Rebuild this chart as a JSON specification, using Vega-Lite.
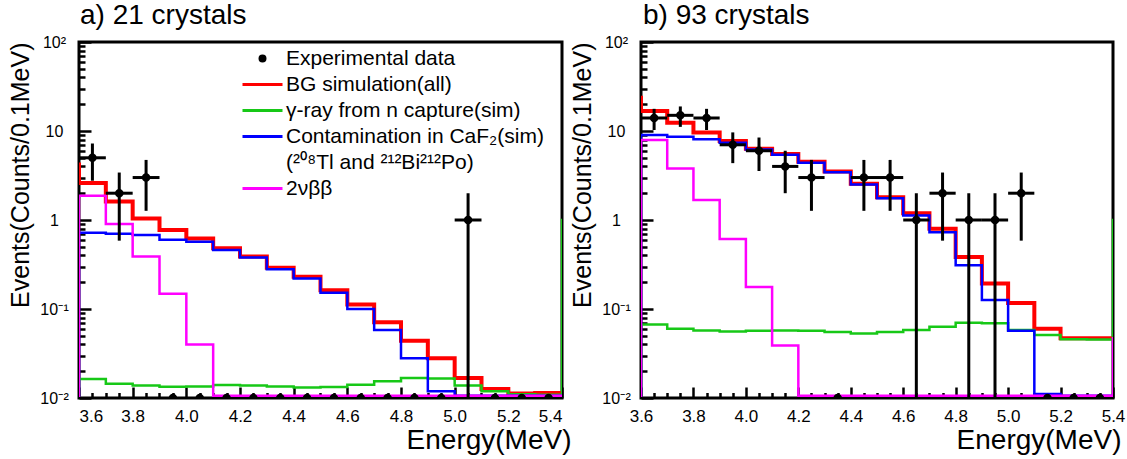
{
  "$schema": "https://vega.github.io/schema/vega-lite/v6.json",
  "padding": {"left": 7, "top": 0, "right": 5, "bottom": 5},
  "bounds": "flush",
  "spacing": 79,
  "datasets": {
    "ha": [
      {"x": 3.5, "bg": 4.2, "gamma": 0.0106, "cont": 0.0106, "nbb": 0.0106},
      {"x": 3.6, "bg": 2.6, "gamma": 0.0164, "cont": 0.72, "nbb": 1.87},
      {"x": 3.7, "bg": 1.61, "gamma": 0.0145, "cont": 0.70, "nbb": 0.9},
      {"x": 3.8, "bg": 1.04, "gamma": 0.0138, "cont": 0.68, "nbb": 0.39},
      {"x": 3.9, "bg": 0.77, "gamma": 0.0134, "cont": 0.60, "nbb": 0.148},
      {"x": 4.0, "bg": 0.62, "gamma": 0.0135, "cont": 0.57, "nbb": 0.040},
      {"x": 4.1, "bg": 0.48, "gamma": 0.014, "cont": 0.46, "nbb": 0.0106},
      {"x": 4.2, "bg": 0.39, "gamma": 0.0138, "cont": 0.38, "nbb": 0.0106},
      {"x": 4.3, "bg": 0.29, "gamma": 0.0135, "cont": 0.28, "nbb": 0.0106},
      {"x": 4.4, "bg": 0.23, "gamma": 0.0131, "cont": 0.22, "nbb": 0.0106},
      {"x": 4.5, "bg": 0.162, "gamma": 0.0133, "cont": 0.152, "nbb": 0.0106},
      {"x": 4.6, "bg": 0.112, "gamma": 0.0141, "cont": 0.10, "nbb": 0.0106},
      {"x": 4.7, "bg": 0.071, "gamma": 0.0154, "cont": 0.058, "nbb": 0.0106},
      {"x": 4.8, "bg": 0.044, "gamma": 0.0168, "cont": 0.028, "nbb": 0.0106},
      {"x": 4.9, "bg": 0.028, "gamma": 0.0166, "cont": 0.0119, "nbb": 0.0106},
      {"x": 5.0, "bg": 0.0168, "gamma": 0.0138, "cont": 0.0106, "nbb": 0.0106},
      {"x": 5.1, "bg": 0.0126, "gamma": 0.0119, "cont": 0.0106, "nbb": 0.0106},
      {"x": 5.2, "bg": 0.0112, "gamma": 0.011, "cont": 0.0106, "nbb": 0.0106},
      {"x": 5.3, "bg": 0.0114, "gamma": 0.0109, "cont": 0.0106, "nbb": 0.0106},
      {"x": 5.4, "bg": 0.0114, "gamma": 1.0, "cont": 0.0106, "nbb": 0.0106},
      {"x": 5.5, "bg": 0.0114, "gamma": 1.0, "cont": 0.0106, "nbb": 0.0106}
    ],
    "hb": [
      {"x": 3.5, "bg": 23.6, "gamma": 0.0106, "cont": 0.0106, "nbb": 0.0106},
      {"x": 3.6, "bg": 16.8, "gamma": 0.067, "cont": 9.0, "nbb": 7.9},
      {"x": 3.7, "bg": 12.4, "gamma": 0.060, "cont": 8.6, "nbb": 3.8},
      {"x": 3.8, "bg": 9.6, "gamma": 0.0575, "cont": 8.1, "nbb": 1.68},
      {"x": 3.9, "bg": 7.7, "gamma": 0.056, "cont": 7.4, "nbb": 0.61},
      {"x": 4.0, "bg": 6.3, "gamma": 0.057, "cont": 6.2, "nbb": 0.177},
      {"x": 4.1, "bg": 5.5, "gamma": 0.0575, "cont": 5.4, "nbb": 0.039},
      {"x": 4.2, "bg": 4.5, "gamma": 0.057, "cont": 4.4, "nbb": 0.0106},
      {"x": 4.3, "bg": 3.5, "gamma": 0.055, "cont": 3.45, "nbb": 0.0106},
      {"x": 4.4, "bg": 2.55, "gamma": 0.053, "cont": 2.5, "nbb": 0.0106},
      {"x": 4.5, "bg": 1.8, "gamma": 0.055, "cont": 1.75, "nbb": 0.0106},
      {"x": 4.6, "bg": 1.19, "gamma": 0.058, "cont": 1.12, "nbb": 0.0106},
      {"x": 4.7, "bg": 0.80, "gamma": 0.063, "cont": 0.73, "nbb": 0.0106},
      {"x": 4.8, "bg": 0.385, "gamma": 0.070, "cont": 0.31, "nbb": 0.0106},
      {"x": 4.9, "bg": 0.194, "gamma": 0.069, "cont": 0.126, "nbb": 0.0106},
      {"x": 5.0, "bg": 0.117, "gamma": 0.058, "cont": 0.057, "nbb": 0.0106},
      {"x": 5.1, "bg": 0.060, "gamma": 0.051, "cont": 0.0111, "nbb": 0.0106},
      {"x": 5.2, "bg": 0.047, "gamma": 0.0457, "cont": 0.0106, "nbb": 0.0106},
      {"x": 5.3, "bg": 0.047, "gamma": 0.0455, "cont": 0.0106, "nbb": 0.0106},
      {"x": 5.4, "bg": 0.047, "gamma": 1.0, "cont": 0.0106, "nbb": 0.047},
      {"x": 5.5, "bg": 0.047, "gamma": 1.0, "cont": 0.0106, "nbb": 0.047}
    ],
    "pa": [
      {"s": "data", "x": 3.65, "y": 5, "lo": 2.764, "hi": 7.236, "xl": 3.6, "xh": 3.7},
      {"s": "data", "x": 3.75, "y": 2, "lo": 0.586, "hi": 3.414, "xl": 3.7, "xh": 3.8},
      {"s": "data", "x": 3.85, "y": 3, "lo": 1.268, "hi": 4.732, "xl": 3.8, "xh": 3.9},
      {"s": "data", "x": 3.95, "y": 0.01},
      {"s": "data", "x": 4.05, "y": 0.01},
      {"s": "data", "x": 4.15, "y": 0.01},
      {"s": "data", "x": 4.25, "y": 0.01},
      {"s": "data", "x": 4.35, "y": 0.01},
      {"s": "data", "x": 4.45, "y": 0.01},
      {"s": "data", "x": 4.55, "y": 0.01},
      {"s": "data", "x": 4.65, "y": 0.01},
      {"s": "data", "x": 4.75, "y": 0.01},
      {"s": "data", "x": 4.85, "y": 0.01},
      {"s": "data", "x": 4.95, "y": 0.01},
      {"s": "data", "x": 5.05, "y": 1, "lo": 0.001, "hi": 2, "xl": 5.0, "xh": 5.1},
      {"s": "data", "x": 5.15, "y": 0.01},
      {"s": "data", "x": 5.25, "y": 0.01},
      {"s": "data", "x": 5.35, "y": 0.01}
    ],
    "pb": [
      {"s": "data", "x": 3.65, "y": 14, "lo": 10.258, "hi": 17.742, "xl": 3.6, "xh": 3.7},
      {"s": "data", "x": 3.75, "y": 15, "lo": 11.127, "hi": 18.873, "xl": 3.7, "xh": 3.8},
      {"s": "data", "x": 3.85, "y": 14, "lo": 10.258, "hi": 17.742, "xl": 3.8, "xh": 3.9},
      {"s": "data", "x": 3.95, "y": 7, "lo": 4.354, "hi": 9.646, "xl": 3.9, "xh": 4.0},
      {"s": "data", "x": 4.05, "y": 6, "lo": 3.551, "hi": 8.449, "xl": 4.0, "xh": 4.1},
      {"s": "data", "x": 4.15, "y": 4, "lo": 2, "hi": 6, "xl": 4.1, "xh": 4.2},
      {"s": "data", "x": 4.25, "y": 3, "lo": 1.268, "hi": 4.732, "xl": 4.2, "xh": 4.3},
      {"s": "data", "x": 4.35, "y": 0.01},
      {"s": "data", "x": 4.45, "y": 3, "lo": 1.268, "hi": 4.732, "xl": 4.4, "xh": 4.5},
      {"s": "data", "x": 4.55, "y": 3, "lo": 1.268, "hi": 4.732, "xl": 4.5, "xh": 4.6},
      {"s": "data", "x": 4.65, "y": 1, "lo": 0.001, "hi": 2, "xl": 4.6, "xh": 4.7},
      {"s": "data", "x": 4.75, "y": 2, "lo": 0.586, "hi": 3.414, "xl": 4.7, "xh": 4.8},
      {"s": "data", "x": 4.85, "y": 1, "lo": 0.001, "hi": 2, "xl": 4.8, "xh": 4.9},
      {"s": "data", "x": 4.95, "y": 1, "lo": 0.001, "hi": 2, "xl": 4.9, "xh": 5.0},
      {"s": "data", "x": 5.05, "y": 2, "lo": 0.586, "hi": 3.414, "xl": 5.0, "xh": 5.1},
      {"s": "data", "x": 5.15, "y": 0.01},
      {"s": "data", "x": 5.25, "y": 0.01},
      {"s": "data", "x": 5.35, "y": 0.01}
    ]
  },
  "resolve": {"scale": {"stroke": "independent", "fill": "independent", "shape": "independent"}},
  "hconcat": [
    {
      "width": 483,
      "height": 356,
      "title": {"text": "a) 21 crystals", "anchor": "start", "frame": "group", "fontSize": 28, "font": "Liberation Sans", "fontWeight": "normal", "offset": 4, "dx": 1, "color": "black"},
      "resolve": {"axis": {"x": "independent", "y": "independent"}},
      "layer": [
        {
          "data": {"name": "ha"},
          "transform": [{"fold": ["bg", "gamma", "cont", "nbb"], "as": ["s", "v"]}, {"filter": "datum.s == 'bg'"}],
          "mark": {"type": "line", "interpolate": "step-after", "strokeWidth": 4, "clip": true},
          "encoding": {
            "x": {"field": "x", "type": "quantitative", "scale": {"domain": [3.6, 5.4], "nice": false, "zero": false},
              "axis": {"orient": "bottom", "values": [3.6, 3.8, 4.0, 4.2, 4.4, 4.6, 4.8, 5.0, 5.2, 5.4], "format": ".1f", "tickSize": -11, "labelPadding": 21, "labelFontSize": 17, "title": "Energy(MeV)", "titleFontSize": 28, "titleAnchor": "end", "titleAlign": "right", "titleX": 492, "titlePadding": 2, "labelFlush": true}},
            "y": {"field": "v", "type": "quantitative", "scale": {"type": "log", "domain": [0.01, 100], "nice": false},
              "axis": {"orient": "left", "values": [0.01, 0.1, 1, 10, 100], "labelExpr": "datum.value > 50 ? '10²' : datum.value > 5 ? '10' : datum.value > 0.5 ? '1' : datum.value > 0.05 ? '10⁻¹' : '10⁻²'", "tickSize": -12, "labelPadding": 37, "labelAlign": "center", "labelFontSize": 16, "title": "Events(Counts/0.1MeV)", "titleFontSize": 25, "titleAnchor": "end", "titlePadding": 6}},
            "stroke": {"field": "s", "type": "nominal",
              "scale": {"domain": ["data", "bg", "gamma", "cont", "tl", "nbb"], "range": ["black", "#ff0000", "#17c817", "#0000ff", "transparent", "#ff00ff"]},
              "legend": {"title": null, "labelExpr": "datum.label == 'data' ? 'Experimental data' : datum.label == 'bg' ? 'BG simulation(all)' : datum.label == 'gamma' ? 'γ-ray from n capture(sim)' : datum.label == 'cont' ? 'Contamination in CaF₂(sim)' : datum.label == 'tl' ? '(²⁰⁸Tl and ²¹²Bi²¹²Po)' : '2νββ'"}}
          }
        },
        {
          "data": {"name": "ha"},
          "transform": [{"fold": ["bg", "gamma", "cont", "nbb"], "as": ["s", "v"]}, {"filter": "datum.s != 'bg'"}],
          "mark": {"type": "line", "interpolate": "step-after", "strokeWidth": 2.5, "clip": true},
          "encoding": {
            "x": {"field": "x", "type": "quantitative", "scale": {"domain": [3.6, 5.4], "nice": false, "zero": false}, "axis": null},
            "y": {"field": "v", "type": "quantitative", "scale": {"type": "log", "domain": [0.01, 100], "nice": false}, "axis": null},
            "stroke": {"field": "s", "type": "nominal",
              "scale": {"domain": ["data", "bg", "gamma", "cont", "tl", "nbb"], "range": ["black", "#ff0000", "#17c817", "#0000ff", "transparent", "#ff00ff"]},
              "legend": {"title": null, "labelExpr": "datum.label == 'data' ? 'Experimental data' : datum.label == 'bg' ? 'BG simulation(all)' : datum.label == 'gamma' ? 'γ-ray from n capture(sim)' : datum.label == 'cont' ? 'Contamination in CaF₂(sim)' : datum.label == 'tl' ? '(²⁰⁸Tl and ²¹²Bi²¹²Po)' : '2νββ'"}}
          }
        },
        {
          "data": {"name": "pa"},
          "transform": [{"filter": {"field": "hi", "valid": true}}],
          "mark": {"type": "rule", "color": "black", "strokeWidth": 3, "clip": true},
          "encoding": {
            "x": {"field": "x", "type": "quantitative", "scale": {"domain": [3.6, 5.4], "nice": false, "zero": false}, "axis": null},
            "y": {"field": "lo", "type": "quantitative", "scale": {"type": "log", "domain": [0.01, 100], "nice": false}, "axis": null},
            "y2": {"field": "hi"}
          }
        },
        {
          "data": {"name": "pa"},
          "transform": [{"filter": {"field": "hi", "valid": true}}],
          "mark": {"type": "rule", "color": "black", "strokeWidth": 3, "clip": true},
          "encoding": {
            "x": {"field": "xl", "type": "quantitative", "scale": {"domain": [3.6, 5.4], "nice": false, "zero": false}, "axis": null},
            "x2": {"field": "xh"},
            "y": {"field": "y", "type": "quantitative", "scale": {"type": "log", "domain": [0.01, 100], "nice": false}, "axis": null}
          }
        },
        {
          "data": {"name": "pa"},
          "mark": {"type": "point", "filled": true, "opacity": 1, "size": 289, "clip": true},
          "encoding": {
            "x": {"field": "x", "type": "quantitative", "scale": {"domain": [3.6, 5.4], "nice": false, "zero": false},
              "axis": {"orient": "bottom", "values": [3.65, 3.7, 3.75, 3.85, 3.9, 3.95, 4.05, 4.1, 4.15, 4.25, 4.3, 4.35, 4.45, 4.5, 4.55, 4.65, 4.7, 4.75, 4.85, 4.9, 4.95, 5.05, 5.1, 5.15, 5.25, 5.3, 5.35], "tickSize": -5.5, "labels": false, "title": null}},
            "y": {"field": "y", "type": "quantitative", "scale": {"type": "log", "domain": [0.01, 100], "nice": false},
              "axis": {"orient": "left", "values": [0.02, 0.03, 0.04, 0.05, 0.06, 0.07, 0.08, 0.09, 0.2, 0.3, 0.4, 0.5, 0.6, 0.7, 0.8, 0.9, 2, 3, 4, 5, 6, 7, 8, 9, 20, 30, 40, 50, 60, 70, 80, 90], "tickSize": -6, "labels": false, "title": null}},
            "fill": {"field": "s", "type": "nominal",
              "scale": {"domain": ["data", "bg", "gamma", "cont", "tl", "nbb"], "range": ["black", "#ff0000", "#17c817", "#0000ff", "transparent", "#ff00ff"]},
              "legend": {"title": null, "labelExpr": "datum.label == 'data' ? 'Experimental data' : datum.label == 'bg' ? 'BG simulation(all)' : datum.label == 'gamma' ? 'γ-ray from n capture(sim)' : datum.label == 'cont' ? 'Contamination in CaF₂(sim)' : datum.label == 'tl' ? '(²⁰⁸Tl and ²¹²Bi²¹²Po)' : '2νββ'"}},
            "shape": {"field": "s", "type": "nominal",
              "scale": {"domain": ["data", "bg", "gamma", "cont", "tl", "nbb"], "range": ["M -0.5 0 A 0.5 0.5 0 1 0 0.5 0 A 0.5 0.5 0 1 0 -0.5 0 Z", "M -4 0 L 4 0", "M -4 0 L 4 0", "M -4 0 L 4 0", "M -4 0 L 4 0", "M -4 0 L 4 0"]},
              "legend": {"title": null, "labelExpr": "datum.label == 'data' ? 'Experimental data' : datum.label == 'bg' ? 'BG simulation(all)' : datum.label == 'gamma' ? 'γ-ray from n capture(sim)' : datum.label == 'cont' ? 'Contamination in CaF₂(sim)' : datum.label == 'tl' ? '(²⁰⁸Tl and ²¹²Bi²¹²Po)' : '2νββ'"}}
          }
        }
      ]
    },
    {
      "width": 472,
      "height": 356,
      "title": {"text": "b) 93 crystals", "anchor": "start", "frame": "group", "fontSize": 28, "font": "Liberation Sans", "fontWeight": "normal", "offset": 4, "dx": 2, "color": "black"},
      "resolve": {"axis": {"x": "independent", "y": "independent"}},
      "layer": [
        {
          "data": {"name": "hb"},
          "transform": [{"fold": ["bg", "gamma", "cont", "nbb"], "as": ["s", "v"]}, {"filter": "datum.s == 'bg'"}],
          "mark": {"type": "line", "interpolate": "step-after", "strokeWidth": 4, "clip": true},
          "encoding": {
            "x": {"field": "x", "type": "quantitative", "scale": {"domain": [3.6, 5.4], "nice": false, "zero": false},
              "axis": {"orient": "bottom", "values": [3.6, 3.8, 4.0, 4.2, 4.4, 4.6, 4.8, 5.0, 5.2, 5.4], "format": ".1f", "tickSize": -11, "labelPadding": 21, "labelFontSize": 17, "title": "Energy(MeV)", "titleFontSize": 28, "titleAnchor": "end", "titleAlign": "right", "titleX": 480, "titlePadding": 2, "labelFlush": false}},
            "y": {"field": "v", "type": "quantitative", "scale": {"type": "log", "domain": [0.01, 100], "nice": false},
              "axis": {"orient": "left", "values": [0.01, 0.1, 1, 10, 100], "labelExpr": "datum.value > 50 ? '10²' : datum.value > 5 ? '10' : datum.value > 0.5 ? '1' : datum.value > 0.05 ? '10⁻¹' : '10⁻²'", "tickSize": -12, "labelPadding": 37, "labelAlign": "center", "labelFontSize": 16, "title": "Events(Counts/0.1MeV)", "titleFontSize": 25, "titleAnchor": "end", "titlePadding": 6}},
            "stroke": {"field": "s", "type": "nominal",
              "scale": {"domain": ["data", "bg", "gamma", "cont", "tl", "nbb"], "range": ["black", "#ff0000", "#17c817", "#0000ff", "transparent", "#ff00ff"]}, "legend": null}
          }
        },
        {
          "data": {"name": "hb"},
          "transform": [{"fold": ["bg", "gamma", "cont", "nbb"], "as": ["s", "v"]}, {"filter": "datum.s != 'bg'"}],
          "mark": {"type": "line", "interpolate": "step-after", "strokeWidth": 2.5, "clip": true},
          "encoding": {
            "x": {"field": "x", "type": "quantitative", "scale": {"domain": [3.6, 5.4], "nice": false, "zero": false}, "axis": null},
            "y": {"field": "v", "type": "quantitative", "scale": {"type": "log", "domain": [0.01, 100], "nice": false}, "axis": null},
            "stroke": {"field": "s", "type": "nominal",
              "scale": {"domain": ["data", "bg", "gamma", "cont", "tl", "nbb"], "range": ["black", "#ff0000", "#17c817", "#0000ff", "transparent", "#ff00ff"]}, "legend": null}
          }
        },
        {
          "data": {"name": "pb"},
          "transform": [{"filter": {"field": "hi", "valid": true}}],
          "mark": {"type": "rule", "color": "black", "strokeWidth": 3, "clip": true},
          "encoding": {
            "x": {"field": "x", "type": "quantitative", "scale": {"domain": [3.6, 5.4], "nice": false, "zero": false}, "axis": null},
            "y": {"field": "lo", "type": "quantitative", "scale": {"type": "log", "domain": [0.01, 100], "nice": false}, "axis": null},
            "y2": {"field": "hi"}
          }
        },
        {
          "data": {"name": "pb"},
          "transform": [{"filter": {"field": "hi", "valid": true}}],
          "mark": {"type": "rule", "color": "black", "strokeWidth": 3, "clip": true},
          "encoding": {
            "x": {"field": "xl", "type": "quantitative", "scale": {"domain": [3.6, 5.4], "nice": false, "zero": false}, "axis": null},
            "x2": {"field": "xh"},
            "y": {"field": "y", "type": "quantitative", "scale": {"type": "log", "domain": [0.01, 100], "nice": false}, "axis": null}
          }
        },
        {
          "data": {"name": "pb"},
          "mark": {"type": "point", "filled": true, "opacity": 1, "size": 289, "clip": true},
          "encoding": {
            "x": {"field": "x", "type": "quantitative", "scale": {"domain": [3.6, 5.4], "nice": false, "zero": false},
              "axis": {"orient": "bottom", "values": [3.65, 3.7, 3.75, 3.85, 3.9, 3.95, 4.05, 4.1, 4.15, 4.25, 4.3, 4.35, 4.45, 4.5, 4.55, 4.65, 4.7, 4.75, 4.85, 4.9, 4.95, 5.05, 5.1, 5.15, 5.25, 5.3, 5.35], "tickSize": -5.5, "labels": false, "title": null}},
            "y": {"field": "y", "type": "quantitative", "scale": {"type": "log", "domain": [0.01, 100], "nice": false},
              "axis": {"orient": "left", "values": [0.02, 0.03, 0.04, 0.05, 0.06, 0.07, 0.08, 0.09, 0.2, 0.3, 0.4, 0.5, 0.6, 0.7, 0.8, 0.9, 2, 3, 4, 5, 6, 7, 8, 9, 20, 30, 40, 50, 60, 70, 80, 90], "tickSize": -6, "labels": false, "title": null}},
            "fill": {"field": "s", "type": "nominal",
              "scale": {"domain": ["data", "bg", "gamma", "cont", "tl", "nbb"], "range": ["black", "#ff0000", "#17c817", "#0000ff", "transparent", "#ff00ff"]}, "legend": null},
            "shape": {"field": "s", "type": "nominal",
              "scale": {"domain": ["data", "bg", "gamma", "cont", "tl", "nbb"], "range": ["M -0.5 0 A 0.5 0.5 0 1 0 0.5 0 A 0.5 0.5 0 1 0 -0.5 0 Z", "M -4 0 L 4 0", "M -4 0 L 4 0", "M -4 0 L 4 0", "M -4 0 L 4 0", "M -4 0 L 4 0"]}, "legend": null}
          }
        }
      ]
    }
  ],
  "config": {
    "view": {"stroke": "black", "strokeWidth": 3},
    "axis": {"labelFont": "Liberation Sans, Noto Sans", "titleFont": "Liberation Sans", "titleFontWeight": "normal", "labelColor": "black", "titleColor": "black", "tickColor": "black", "tickWidth": 2.5, "grid": false, "domain": false},
    "legend": {"orient": "none", "legendX": 173, "legendY": 6, "padding": 0, "labelFont": "Liberation Sans, Noto Sans", "labelFontSize": 21, "labelColor": "black", "labelLimit": 500, "symbolSize": 100, "symbolStrokeWidth": 3, "labelOffset": 13, "rowPadding": 4, "symbolOpacity": 1}
  }
}
